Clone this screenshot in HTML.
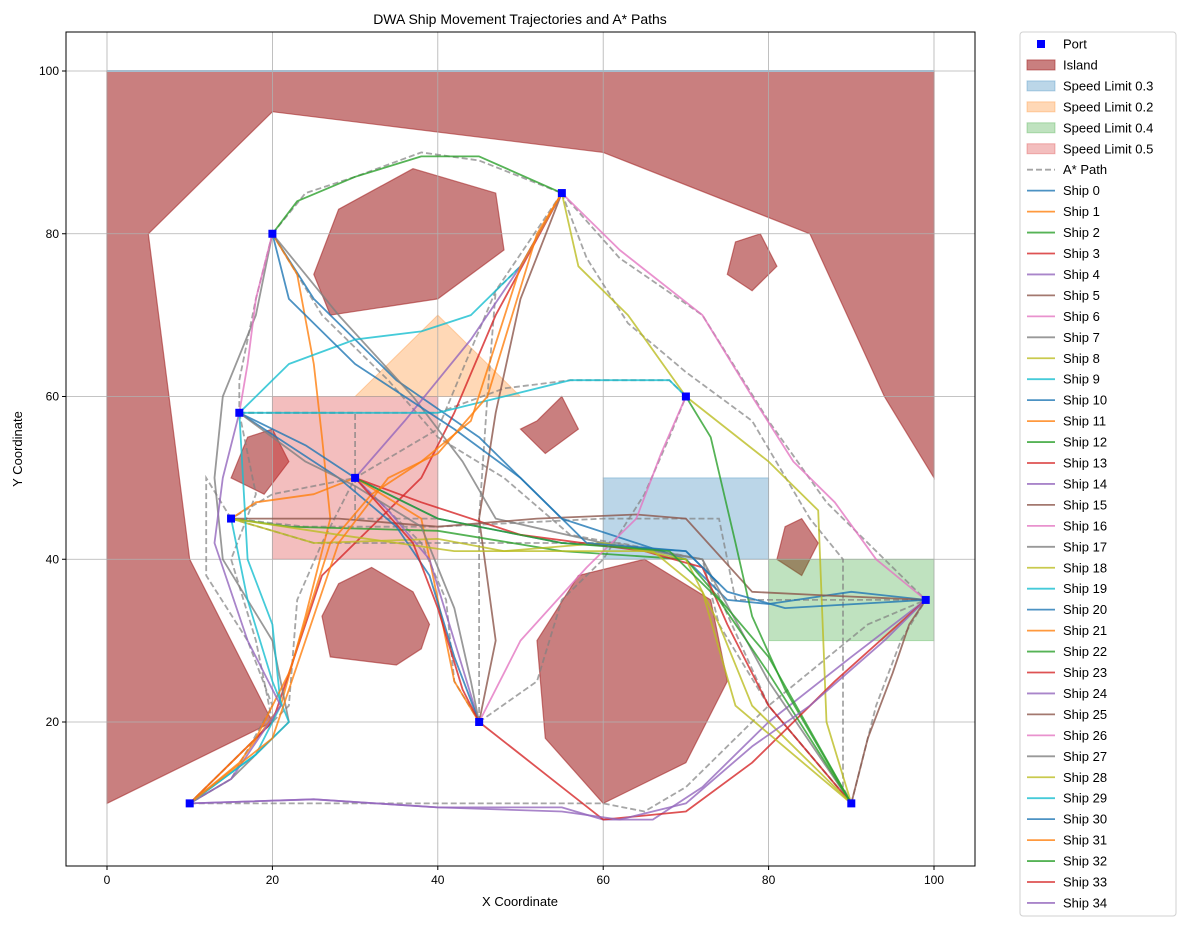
<!DOCTYPE html>
<html><head><meta charset="utf-8"><style>
body{margin:0;background:#fff;font-family:"Liberation Sans",sans-serif;}
svg text{font-family:"Liberation Sans",sans-serif;}
</style></head><body>
<svg id="chart" width="1188" height="926" xmlns="http://www.w3.org/2000/svg"></svg>
<script>
const ports=[[10,10],[15,45],[16,58],[20,80],[30,50],[45,20],[55,85],[70,60],[90,10],[99,35]];
const islands=[
 [[0,100],[100,100],[100,50],[94,60],[85,80],[60,90],[20,95],[5,80],[10,40],[20,20],[0,10]],
 [[28,83],[37,88],[47,85],[48,78],[40,72],[27,70],[25,75]],
 [[17,55],[20,56],[22,52],[19,48],[15,50]],
 [[52,57],[55,60],[57,56],[53,53],[50,56]],
 [[76,79],[79,80],[81,76],[78,73],[75,75]],
 [[52,30],[57,38],[65,40],[73,35],[75,25],[70,15],[60,10],[53,18]],
 [[82,44],[84,45],[86,42],[84,38],[81,40]],
 [[28,37],[32,39],[37,36],[39,32],[38,29],[35,27],[27,28],[26,33]]];
const zoneLabels=["Speed Limit 0.3","Speed Limit 0.2","Speed Limit 0.4","Speed Limit 0.5"];
const zoneColors=["#1f77b4","#ff7f0e","#2ca02c","#d62728"];
const zones=[[[60,40],[80,40],[80,50],[60,50]],[[30,60],[40,70],[50,60]],[[80,30],[100,30],[100,40],[80,40]],[[20,40],[40,40],[40,60],[20,60]]];
const astar=[
 [[20,80],[24,85],[30,87],[38,90],[45,89],[55,85]],
 [[55,85],[58,77],[63,69],[70,63],[78,57],[85,45],[89,40],[89,12],[90,10]],
 [[55,85],[62,77],[72,70],[80,57],[87,47],[99,35]],
 [[16,58],[40,58],[48,61],[56,62],[68,62],[70,60]],
 [[15,45],[24,44],[40,44],[60,45],[74,45],[76,35],[99,35]],
 [[15,45],[25,42],[45,42],[62,42],[72,40],[80,22],[90,10]],
 [[10,10],[15,15],[22,22],[23,35],[26,42],[30,50],[40,56],[47,73],[55,85]],
 [[20,80],[26,70],[34,62],[40,55],[48,50],[56,43],[72,40],[74,32],[80,22],[90,10]],
 [[10,10],[40,10],[60,10],[65,9],[70,12],[80,22],[92,32],[99,35]],
 [[45,20],[42,25],[41,35],[38,42],[30,50],[20,48],[15,45]],
 [[45,20],[45,45],[46,60],[47,73],[50,76],[55,85]],
 [[15,45],[12,50],[12,38],[17,30],[20,22],[15,13],[10,10]],
 [[20,80],[18,72],[16,62],[16,58]],
 [[16,58],[25,58],[30,58],[30,45],[40,45]],
 [[45,20],[52,25],[55,35],[60,40],[65,48],[68,55],[70,60]],
 [[90,10],[93,22],[96,30],[99,35]],
 [[16,58],[18,48],[15,40],[18,30],[20,20],[15,15],[10,10]]];
const shipPaths=[
 [[20,80],[25,72],[35,62],[45,55],[55,45],[70,40],[75,35],[80,34.5],[90,36],[99,35]],
 [[10,10],[16,15],[21,22],[24,33],[27,45],[26,55],[25,64],[23,75],[20,80]],
 [[20,80],[23,84],[30,87],[38,89.5],[45,89.5],[55,85]],
 [[10,10],[20,20],[26,38],[33,45],[38,50],[42,58],[47,70],[55,85]],
 [[10,10],[25,10.5],[40,9.5],[55,9.5],[60,8],[66,8],[72,12],[80,20],[90,28],[99,35]],
 [[45,20],[47,30],[45,45],[47,58],[50,72],[55,85]],
 [[55,85],[62,78],[72,70],[78,60],[83,52],[88,47],[93,40],[99,35]],
 [[20,80],[28,70],[37,60],[43,52],[47,45],[60,42],[72,40],[80,25],[90,10]],
 [[55,85],[57,76],[63,70],[70,60],[80,52],[86,46],[87,20],[90,10]],
 [[16,58],[22,64],[30,67],[38,68],[44,70],[50,76],[55,85]],
 [[16,58],[24,54],[30,50],[40,45],[55,42],[70,41],[74,37]],
 [[15,45],[18,47],[25,48],[30,50],[38,45],[40,35],[42,25],[45,20]],
 [[15,45],[22,44],[40,43.5],[55,41],[70,40],[80,28],[90,10]],
 [[30,50],[38,47],[50,43],[65,41],[72,39],[75,32],[80,22],[90,10]],
 [[45,20],[42,30],[39,40],[34,46],[30,50],[36,57],[44,67],[50,76],[55,85]],
 [[15,45],[28,45],[40,44],[52,45],[64,45.5],[70,45],[78,36],[88,35.5],[99,35]],
 [[45,20],[50,30],[58,39],[64,45],[67,53],[70,60]],
 [[20,80],[18,70],[14,60],[13,50],[14,40],[20,30],[22,20],[15,13],[10,10]],
 [[15,45],[25,42],[40,42.5],[48,41],[60,42],[70,40],[74,32],[78,22],[90,10]],
 [[10,10],[18,16],[21,22],[20,32],[17,40],[16,58],[40,58],[48,60],[56,62],[68,62],[70,60]],
 [[45,20],[42,28],[39,38],[35,44],[28,50],[16,58]],
 [[10,10],[18,18],[22,26],[27,42],[32,48],[38,52],[44,57],[50,76],[55,85]],
 [[70,60],[73,55],[76,42],[78,33],[82,24],[90,10]],
 [[45,20],[50,16],[55,12],[60,8],[70,9],[78,15],[88,25],[99,35]],
 [[16,58],[14,50],[13,42],[17,30],[21,22],[15,13],[10,10]],
 [[90,10],[92,18],[95,26],[97,32],[99,35]],
 [[20,80],[18,72],[17,64],[16,58]],
 [[16,58],[24,52],[30,49],[38,44],[42,34],[44,25],[45,20]],
 [[15,45],[28,43],[42,41],[55,41],[66,41],[72,36],[76,22],[90,10]],
 [[15,45],[17,35],[20,25],[22,20],[18,16],[10,10]],
 [[20,80],[22,72],[30,64],[42,56],[50,50],[58,42],[70,41],[75,36],[82,34],[99,35]],
 [[10,10],[20,18],[24,30],[28,42],[34,50],[40,53],[46,60],[52,80],[55,85]],
 [[30,50],[40,45],[55,42],[68,41],[74,35],[80,26],[90,10]],
 [[30,50],[37,42],[40,34],[43,24],[45,20]],
 [[99,35],[94,30],[85,22],[78,17],[70,10],[62,8],[55,9],[40,9.5],[25,10.5],[10,10]]];
const xTicks=[0,20,40,60,80,100];
const yTicks=[20,40,60,80,100];
const tab10=["#1f77b4","#ff7f0e","#2ca02c","#d62728","#9467bd","#8c564b","#e377c2","#7f7f7f","#bcbd22","#17becf"];

const svg=document.getElementById('chart');
const NS="http://www.w3.org/2000/svg";
const L=66,R=975,T=32,B=866;
function sx(x){return 107+x*8.27;}
function sy(y){return 722-(y-20)*8.1375;}
function mk(tag,attrs,parent){const e=document.createElementNS(NS,tag);for(const k in attrs)e.setAttribute(k,attrs[k]);(parent||svg).appendChild(e);return e;}
function pts(a){return a.map(p=>sx(p[0]).toFixed(1)+","+sy(p[1]).toFixed(1)).join(" ");}
mk('defs',{}).innerHTML='<clipPath id="pc"><rect x="66" y="32" width="909" height="834"/></clipPath>';
const plot=mk('g',{'clip-path':'url(#pc)'});


islands.forEach((p,i)=>{const e=mk('polygon',{points:pts(p),fill:'#a52a2a','fill-opacity':0.6,stroke:'#a52a2a','stroke-opacity':0.6,'stroke-width':1.2},plot);

});
zones.forEach((p,i)=>{const e=mk('polygon',{points:pts(p),fill:zoneColors[i],'fill-opacity':0.3,stroke:zoneColors[i],'stroke-opacity':0.3},plot);

});
mk('line',{x1:sx(0),x2:sx(100),y1:sy(100),y2:sy(100),stroke:'#9fc4de','stroke-width':2},plot);
xTicks.forEach(t=>{mk('line',{x1:sx(t),x2:sx(t),y1:T,y2:B,stroke:'#b0b0b0','stroke-width':0.8},plot);});
yTicks.forEach(t=>{mk('line',{x1:L,x2:R,y1:sy(t),y2:sy(t),stroke:'#b0b0b0','stroke-width':0.8},plot);});
astar.forEach((p,i)=>{const e=mk('polyline',{points:pts(p),fill:'none',stroke:'#808080','stroke-opacity':0.7,'stroke-width':1.8,'stroke-dasharray':'6,3'},plot);

});
shipPaths.forEach((p,i)=>{const e=mk('polyline',{points:pts(p),fill:'none',stroke:tab10[i%10],'stroke-opacity':0.8,'stroke-width':1.8,'stroke-linejoin':'round'},plot);

});
ports.forEach((p,i)=>{const e=mk('rect',{x:sx(p[0])-4,y:sy(p[1])-4,width:8,height:8,fill:'#0000ff'},plot);

});
mk('rect',{x:L,y:T,width:R-L,height:B-T,fill:'none',stroke:'#000','stroke-width':1});
xTicks.forEach(t=>{mk('line',{x1:sx(t),x2:sx(t),y1:B,y2:B+4,stroke:'#000'});
const e=mk('text',{x:sx(t),y:B+18,'text-anchor':'middle','font-size':12});e.textContent=t;

});
yTicks.forEach(t=>{mk('line',{x1:L-4,x2:L,y1:sy(t),y2:sy(t),stroke:'#000'});
const e=mk('text',{x:L-7,y:sy(t)+4,'text-anchor':'end','font-size':12});e.textContent=t;

});
let e=mk('text',{x:520,y:24,'text-anchor':'middle','font-size':14});e.textContent='DWA Ship Movement Trajectories and A* Paths';


e=mk('text',{x:520,y:906,'text-anchor':'middle','font-size':13});e.textContent='X Coordinate';


e=mk('text',{x:22,y:449,'text-anchor':'middle','font-size':13,transform:'rotate(-90 22 449)'});e.textContent='Y Coordinate';


const lg=mk('g',{});


mk('rect',{x:1020,y:32,width:156,height:884,rx:3,fill:'#fff',stroke:'#d0d0d0'},lg);
const entries=[['port'],['island'],['zone',0],['zone',1],['zone',2],['zone',3],['astar']];
for(let i=0;i<35;i++)entries.push(['ship',i]);
entries.forEach((en,i)=>{const y=44+i*20.95;const g=mk('g',{},lg);


let label;
if(en[0]=='port'){mk('rect',{x:1037,y:y-4,width:8,height:8,fill:'#0000ff'},g);label='Port';}
else if(en[0]=='island'){mk('rect',{x:1027,y:y-5,width:28,height:10,fill:'#a52a2a','fill-opacity':0.6,stroke:'#a52a2a','stroke-opacity':0.6},g);label='Island';}
else if(en[0]=='zone'){mk('rect',{x:1027,y:y-5,width:28,height:10,fill:zoneColors[en[1]],'fill-opacity':0.3,stroke:zoneColors[en[1]],'stroke-opacity':0.3},g);label=zoneLabels[en[1]];}
else if(en[0]=='astar'){mk('line',{x1:1027,x2:1055,y1:y,y2:y,stroke:'#808080','stroke-opacity':0.7,'stroke-width':1.8,'stroke-dasharray':'6,3'},g);label='A* Path';}
else{mk('line',{x1:1027,x2:1055,y1:y,y2:y,stroke:tab10[en[1]%10],'stroke-opacity':0.8,'stroke-width':1.8},g);label='Ship '+en[1];}
const t=mk('text',{x:1063,y:y+4.5,'font-size':13},g);t.textContent=label;});
</script>
</body></html>
